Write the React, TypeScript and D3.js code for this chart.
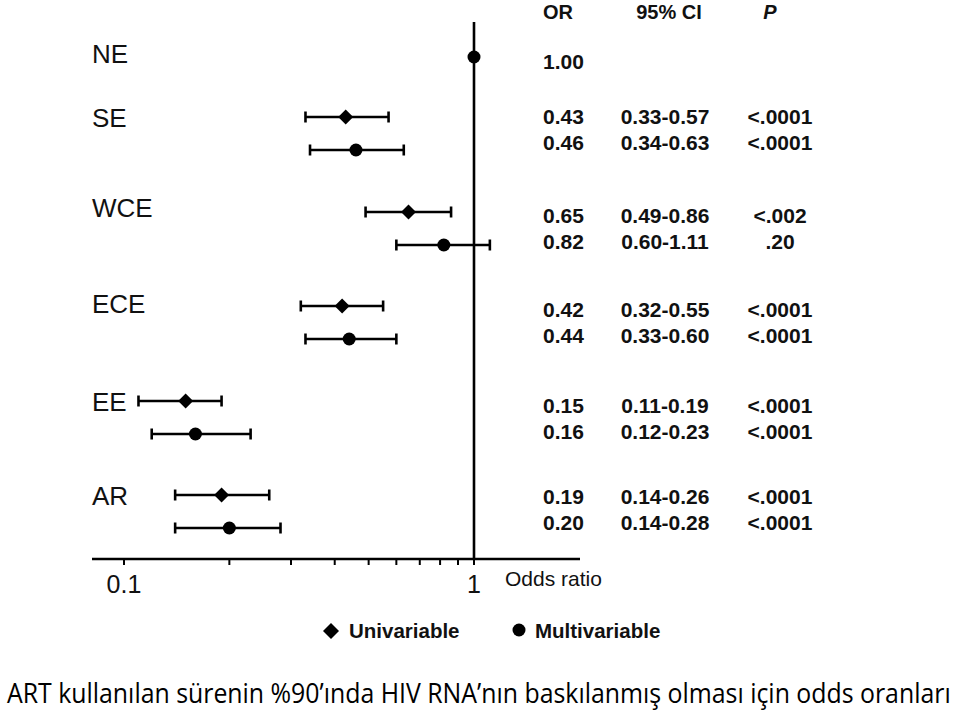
import React, { useLayoutEffect, useRef, useState } from "react";
import * as d3 from "d3";

const categories = ["NE", "SE", "WCE", "ECE", "EE", "AR"];
const uniOR = [null, 0.43, 0.65, 0.42, 0.15, 0.19];
const uniLo = [null, 0.33, 0.49, 0.32, 0.11, 0.14];
const uniHi = [null, 0.57, 0.86, 0.55, 0.19, 0.26];
const uniP = ["", "<.0001", "<.002", "<.0001", "<.0001", "<.0001"];
const multiOR = [1.0, 0.46, 0.82, 0.44, 0.16, 0.2];
const multiLo = [null, 0.34, 0.6, 0.33, 0.12, 0.14];
const multiHi = [null, 0.63, 1.11, 0.6, 0.23, 0.28];
const multiP = ["", "<.0001", ".20", "<.0001", "<.0001", "<.0001"];
const tickValues = [0.1, 0.2, 0.3, 0.4, 0.5, 0.6, 0.7, 0.8, 0.9, 1];
const tickLabels = ["0.1", "1"];
const headers = ["OR", "95% CI", "P"];
const legendLabels = ["Univariable", "Multivariable"];
const caption = "ART kullanılan sürenin %90’ında HIV RNA’nın baskılanmış olması için odds oranları";

const W = 960;
const H = 716;

export default function App() {
  const capRef = useRef<SVGTextElement | null>(null);
  const [capScale, setCapScale] = useState(1);
  useLayoutEffect(() => {
    if (capRef.current) {
      const len = capRef.current.getComputedTextLength();
      if (len > 0) setCapScale(944 / len);
    }
  }, []);

  const x = d3.scaleLog().domain([0.1, 1]).range([124, 474]);
  const axisY = 559;
  const axisX0 = 92;
  const axisX1 = 580;

  const rowBase = [57, 117, 212, 306, 401, 495];
  const multiOffset = 33;
  const tableBase = [69, 124, 223, 317, 413, 504];
  const tableGap = 26;
  const labelBase = [63, 127, 217, 313, 411, 505];

  const fmt2 = (v: number | null) => (v == null ? "" : v.toFixed(2));
  const diamond = (cx: number, cy: number, r: number) =>
    `M${cx},${cy - r}L${cx + r},${cy}L${cx},${cy + r}L${cx - r},${cy}Z`;

  const sw = 2.6;
  const capH = 5.5;
  const font = "Liberation Sans, Arial, sans-serif";

  const errorBar = (lo: number, hi: number, cy: number, key: string) => (
    <g key={key} stroke="#000" strokeWidth={sw}>
      <line x1={x(lo)} x2={x(hi)} y1={cy} y2={cy} />
      <line x1={x(lo)} x2={x(lo)} y1={cy - capH} y2={cy + capH} />
      <line x1={x(hi)} x2={x(hi)} y1={cy - capH} y2={cy + capH} />
    </g>
  );

  return (
    <svg
      width={W}
      height={H}
      style={{ position: "absolute", left: 0, top: 0, background: "#fff" }}
      fontFamily={font}
    >
      <rect x={0} y={0} width={W} height={H} fill="#fff" />
      {categories.map((c, i) => (
        <text key={c} x={92} y={labelBase[i]} fontSize={26} fill="#111">
          {c}
        </text>
      ))}

      <line x1={x(1)} x2={x(1)} y1={22} y2={axisY} stroke="#000" strokeWidth={sw} />

      <line x1={axisX0} x2={axisX1} y1={axisY} y2={axisY} stroke="#000" strokeWidth={sw} />
      {tickValues.map((t) => (
        <line key={t} x1={x(t)} x2={x(t)} y1={axisY} y2={axisY + 6} stroke="#000" strokeWidth={2} />
      ))}
      {tickLabels.map((t) => (
        <text key={t} x={x(+t)} y={593} fontSize={25} textAnchor="middle" fill="#111">
          {t}
        </text>
      ))}
      <text x={505} y={586} fontSize={21} fill="#111">
        Odds ratio
      </text>

      {categories.map((c, i) => {
        const cy1 = rowBase[i];
        const cy2 = i === 0 ? rowBase[i] : rowBase[i] + multiOffset;
        return (
          <g key={c}>
            {uniOR[i] != null && uniLo[i] != null && errorBar(uniLo[i] as number, uniHi[i] as number, cy1, "u" + c)}
            {uniOR[i] != null && <path d={diamond(x(uniOR[i] as number), cy1, 7.5)} fill="#000" />}
            {multiLo[i] != null && errorBar(multiLo[i] as number, multiHi[i] as number, cy2, "m" + c)}
            <circle cx={x(multiOR[i])} cy={cy2} r={6.5} fill="#000" />
          </g>
        );
      })}

      <g fontWeight="bold" fontSize={21} fill="#111">
        <text x={543} y={19} fontSize={20}>{headers[0]}</text>
        <text x={669} y={19} fontSize={20} textAnchor="middle">{headers[1]}</text>
        <text x={770} y={19} fontSize={20} textAnchor="middle" fontStyle="italic">{headers[2]}</text>
        {categories.map((c, i) => {
          const b1 = tableBase[i];
          const b2 = b1 + tableGap;
          if (i === 0) {
            return (
              <text key={c} x={543} y={b1}>{fmt2(multiOR[i])}</text>
            );
          }
          return (
            <g key={c}>
              <text x={543} y={b1}>{fmt2(uniOR[i])}</text>
              <text x={665} y={b1} textAnchor="middle">{`${fmt2(uniLo[i])}-${fmt2(uniHi[i])}`}</text>
              <text x={780} y={b1} textAnchor="middle">{uniP[i]}</text>
              <text x={543} y={b2}>{fmt2(multiOR[i])}</text>
              <text x={665} y={b2} textAnchor="middle">{`${fmt2(multiLo[i])}-${fmt2(multiHi[i])}`}</text>
              <text x={780} y={b2} textAnchor="middle">{multiP[i]}</text>
            </g>
          );
        })}
      </g>

      <path d={diamond(331, 631, 8)} fill="#000" />
      <text x={349} y={638} fontSize={20.5} fontWeight="bold" fill="#111">{legendLabels[0]}</text>
      <circle cx={519} cy={630} r={6.5} fill="#000" />
      <text x={535} y={638} fontSize={20.5} fontWeight="bold" fill="#111">{legendLabels[1]}</text>

      <g transform={`translate(7,703) scale(${capScale},1)`}>
        <text
          ref={capRef}
          x={0}
          y={0}
          fontSize={28}
          fontFamily="'Open Sans', 'Noto Sans', sans-serif"
          fill="#000"
        >
          {caption}
        </text>
      </g>
    </svg>
  );
}
